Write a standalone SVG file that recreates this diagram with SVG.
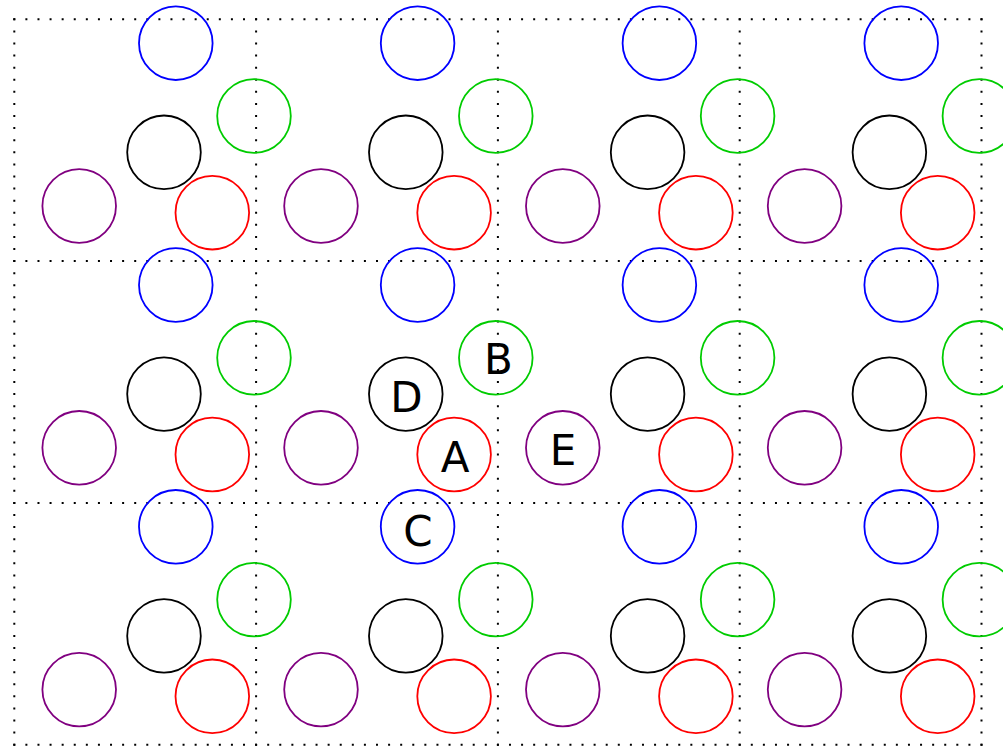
<svg xmlns="http://www.w3.org/2000/svg" xmlns:xlink="http://www.w3.org/1999/xlink" width="1003" height="748" viewBox="0 0 1003 748">
<style>
.grid{fill:none;stroke:#000;stroke-width:2;stroke-dasharray:2 10.09}
circle{fill:none;stroke-width:1.8}
.b{stroke:#0000ff}.g{stroke:#00cc00}.k{stroke:#000}.p{stroke:#800080}.r{stroke:#ff0000}
.lbl{font-family:"DejaVu Sans",sans-serif;font-size:42px;fill:#000;text-anchor:middle}
</style>
<defs>
<g id="motif">
<circle class="b" cx="175.8" cy="43.2" r="36.8"/>
<circle class="g" cx="254" cy="116" r="36.8"/>
<circle class="k" cx="164" cy="152.3" r="36.8"/>
<circle class="p" cx="79.2" cy="206" r="36.8"/>
<circle class="r" cx="212.3" cy="212.7" r="36.8"/>
</g>
</defs>
<rect width="1003" height="748" fill="#fff"/>
<g id="grid">
<path class="grid" d="M13.3,19.3H982.5M13.3,261.1H982.5M13.3,502.9H982.5M13.3,744.7H982.5"/>
<path class="grid" d="M14.3,18.3V745.7M256.1,18.3V745.7M497.9,18.3V745.7M739.7,18.3V745.7M981.5,18.3V745.7"/>
</g>
<g id="cells">
<use id="cell-0-0" xlink:href="#motif" x="0" y="0"/>
<use id="cell-0-1" xlink:href="#motif" x="241.8" y="0"/>
<use id="cell-0-2" xlink:href="#motif" x="483.6" y="0"/>
<use id="cell-0-3" xlink:href="#motif" x="725.4" y="0"/>
<use id="cell-1-0" xlink:href="#motif" x="0" y="241.8"/>
<use id="cell-1-1" xlink:href="#motif" x="241.8" y="241.8"/>
<use id="cell-1-2" xlink:href="#motif" x="483.6" y="241.8"/>
<use id="cell-1-3" xlink:href="#motif" x="725.4" y="241.8"/>
<use id="cell-2-0" xlink:href="#motif" x="0" y="483.6"/>
<use id="cell-2-1" xlink:href="#motif" x="241.8" y="483.6"/>
<use id="cell-2-2" xlink:href="#motif" x="483.6" y="483.6"/>
<use id="cell-2-3" xlink:href="#motif" x="725.4" y="483.6"/>
</g>
<g id="labels">
<g id="label-A"><text class="lbl" x="455" y="472.3">A</text></g>
<g id="label-B"><text class="lbl" x="498.3" y="373.5">B</text></g>
<g id="label-C"><text class="lbl" x="418" y="545.5">C</text></g>
<g id="label-D"><text class="lbl" x="406.3" y="411.7">D</text></g>
<g id="label-E"><text class="lbl" x="563" y="465">E</text></g>
</g>
</svg>
